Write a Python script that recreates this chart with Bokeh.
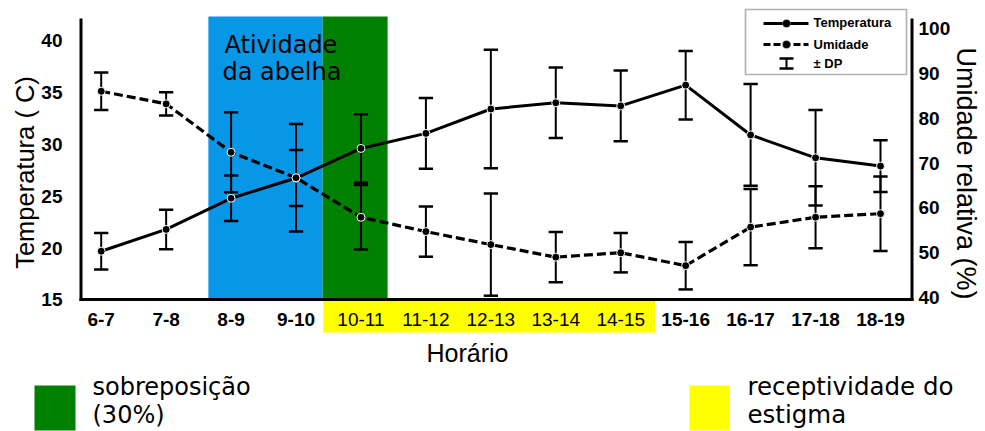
import numpy as np
from bokeh.plotting import figure
from bokeh.models import (Range1d, BoxAnnotation, Label, LabelSet,
                          ColumnDataSource, Arrow, TeeHead)
from bokeh.embed import file_html
from bokeh.resources import INLINE
from bokeh.core.properties import value

# ---------------- data ----------------
hours = ["6-7", "7-8", "8-9", "9-10", "10-11", "11-12", "12-13",
         "13-14", "14-15", "15-16", "16-17", "17-18", "18-19"]
temperature = [19.7, 21.8, 24.8, 26.75, 29.6, 31.05, 33.4, 34.0, 33.7, 35.7, 30.9, 28.7, 27.9]
temperature_sd = [1.75, 1.9, 2.2, 2.7, 3.3, 3.4, 5.7, 3.4, 3.4, 3.3, 4.9, 4.6, 2.5]
humidity = [86.0, 83.2, 72.4, 66.7, 57.9, 54.7, 51.8, 49.0, 50.0, 47.1, 55.7, 57.9, 58.7]
humidity_sd = [4.2, 2.6, 8.9, 12.0, 7.2, 5.6, 11.4, 5.6, 4.4, 5.3, 8.5, 6.9, 8.3]
temp_ticks = [15, 20, 25, 30, 35, 40]
hum_ticks = [40, 50, 60, 70, 80, 90, 100]

# shaded bands, in hour-category index units
bee_band = (1.65, 3.41)      # Atividade da abelha
overlap_band = (3.41, 4.41)  # sobreposição (30%)
stigma_band = (3.42, 8.53)   # receptividade do estigma

# ---------------- style ----------------
BLUE = "#0896e6"
GREEN = "#008000"
YELLOW = "#ffff00"
TICK_FONT = "Liberation Sans"
TEXT_FONT = "DejaVu Sans"

W, H = 985, 431


def sx(X):
    return X


def sy(Y):
    return H - Y


# the plotting frame covers the whole canvas; axes are drawn by hand
p = figure(width=W, height=H, output_backend="svg", toolbar_location=None,
           x_axis_location=None, y_axis_location=None,
           x_range=Range1d(-1.5507, 13.617), y_range=Range1d(2.331, 43.854),
           min_border_left=0, min_border_right=0, min_border_top=0, min_border_bottom=0)
p.outline_line_color = None
p.grid.visible = False
p.background_fill_color = "white"
p.border_fill_color = "white"
p.extra_y_ranges = {"hum": Range1d(10.109, 106.25)}


def sbox(L, R, T, B, **kw):
    return BoxAnnotation(left=sx(L), right=sx(R), top=sy(T), bottom=sy(B),
                         left_units="screen", right_units="screen",
                         top_units="screen", bottom_units="screen", **kw)


# shaded bands
for band, col in ((bee_band, BLUE), (overlap_band, GREEN)):
    p.add_layout(BoxAnnotation(left=band[0], right=band[1], bottom=sy(299), top=sy(16),
                               bottom_units="screen", top_units="screen",
                               fill_color=col, fill_alpha=1, line_color=None, level="underlay"))
p.add_layout(BoxAnnotation(left=stigma_band[0], right=stigma_band[1], bottom=sy(332), top=sy(300),
                           bottom_units="screen", top_units="screen",
                           fill_color=YELLOW, fill_alpha=1, line_color=None, level="underlay"))

# axis lines
for L, R, T, B in ((79, 82, 18, 300.5), (910, 913, 18, 300.5), (79, 913, 297.5, 300.5)):
    p.add_layout(sbox(L, R, T, B, fill_color="black", fill_alpha=1, line_color=None))

# y tick labels
lsrc = ColumnDataSource(dict(y=temp_ticks, text=[str(v) for v in temp_ticks]))
p.add_layout(LabelSet(x=sx(62), x_units="screen", y="y", text="text", source=lsrc,
                      text_align="right", text_baseline="middle",
                      text_font=value(TICK_FONT), text_font_style="bold",
                      text_font_size="19px", text_color="black"))
rsrc = ColumnDataSource(dict(y=hum_ticks, text=[str(v) for v in hum_ticks]))
p.add_layout(LabelSet(x=sx(918), x_units="screen", y="y", y_range_name="hum", text="text",
                      source=rsrc, text_align="left", text_baseline="middle",
                      text_font=value(TICK_FONT), text_font_style="bold",
                      text_font_size="19px", text_color="black"))

# x tick labels (bold outside stigma band, regular inside)
idx = list(range(len(hours)))
inside = [stigma_band[0] <= i <= stigma_band[1] for i in idx]
for flag, style in ((False, "bold"), (True, "normal")):
    src = ColumnDataSource(dict(x=[i for i in idx if inside[i] == flag],
                                text=[hours[i] for i in idx if inside[i] == flag]))
    p.add_layout(LabelSet(x="x", y=sy(319), y_units="screen", text="text", source=src,
                          text_align="center", text_baseline="middle",
                          text_font=value(TICK_FONT), text_font_style=style,
                          text_font_size="19px", text_color="black"))

# data sources
x = np.arange(len(hours))
t = np.array(temperature)
tsd = np.array(temperature_sd)
h = np.array(humidity)
hsd = np.array(humidity_sd)
cw = 0.11
tsrc = ColumnDataSource(dict(x=x, y=t, lo=t - tsd, hi=t + tsd, xl=x - cw, xr=x + cw))
hsrc = ColumnDataSource(dict(x=x, y=h, lo=h - hsd, hi=h + hsd, xl=x - cw, xr=x + cw))

# error bars
for src, rng in ((tsrc, "default"), (hsrc, "hum")):
    p.segment(x0="x", y0="lo", x1="x", y1="hi", source=src, line_color="black",
              line_width=2, y_range_name=rng)
    p.segment(x0="xl", y0="lo", x1="xr", y1="lo", source=src, line_color="black",
              line_width=2.5, y_range_name=rng)
    p.segment(x0="xl", y0="hi", x1="xr", y1="hi", source=src, line_color="black",
              line_width=2.5, y_range_name=rng)

# lines and points
p.line("x", "y", source=tsrc, line_color="black", line_width=3)
p.line("x", "y", source=hsrc, line_color="black", line_width=3.2, line_dash="9 4",
       y_range_name="hum")
p.scatter("x", "y", source=tsrc, size=8, fill_color="black", line_color="white", line_width=1)
p.scatter("x", "y", source=hsrc, size=8, fill_color="black", line_color="white", line_width=1,
          y_range_name="hum")

# axis titles
p.add_layout(Label(x=sx(24), y=sy(172), x_units="screen", y_units="screen",
                   text="Temperatura ( C)", angle=90, angle_units="deg",
                   text_align="center", text_baseline="middle",
                   text_font=TICK_FONT, text_font_size="25.5px", text_color="black"))
p.add_layout(Label(x=sx(965), y=sy(173), x_units="screen", y_units="screen",
                   text="Umidade relativa (%)", angle=-90, angle_units="deg",
                   text_align="center", text_baseline="middle",
                   text_font=TICK_FONT, text_font_size="27px", text_color="black"))
p.add_layout(Label(x=sx(467), y=sy(352), x_units="screen", y_units="screen",
                   text="Horário", text_align="center", text_baseline="middle",
                   text_font=TICK_FONT, text_font_size="25px", text_color="black"))

# band annotation text
for txt, X, Y in (("Atividade", 224, 44), ("da abelha", 222, 71)):
    p.add_layout(Label(x=sx(X), y=sy(Y), x_units="screen", y_units="screen", text=txt,
                       text_align="left", text_baseline="middle",
                       text_font=TEXT_FONT, text_font_size="24px", text_color="black"))

# ---------------- top-right legend ----------------
p.add_layout(sbox(745, 906, 9, 74, fill_color="white", fill_alpha=1,
                  line_color="black", line_width=1.7))
p.add_layout(Arrow(end=None, x_start=sx(763), y_start=sy(23), x_end=sx(808), y_end=sy(23),
                   start_units="screen", end_units="screen", line_color="black", line_width=3))
p.add_layout(Arrow(end=None, x_start=sx(763), y_start=sy(44), x_end=sx(808), y_end=sy(44),
                   start_units="screen", end_units="screen", line_color="black", line_width=3,
                   line_dash="7 3"))
for Y in (23, 44):
    p.add_layout(sbox(782, 790, Y - 4, Y + 4, fill_color="black", fill_alpha=1,
                      line_color="white", line_width=1, border_radius=4))
p.add_layout(Arrow(start=TeeHead(size=14, line_width=2.5, line_color="black"),
                   end=TeeHead(size=14, line_width=2.5, line_color="black"),
                   x_start=sx(786), y_start=sy(68), x_end=sx(786), y_end=sy(58),
                   start_units="screen", end_units="screen", line_color="black", line_width=2))
for txt, Y in (("Temperatura", 22), ("Umidade", 44), ("± DP", 63)):
    p.add_layout(Label(x=sx(813), y=sy(Y), x_units="screen", y_units="screen", text=txt,
                       text_align="left", text_baseline="middle",
                       text_font=TICK_FONT, text_font_style="bold", text_font_size="13px",
                       text_color="black"))

# ---------------- bottom colour key ----------------
for col, L, R in ((GREEN, 34, 75), (YELLOW, 689, 729)):
    p.add_layout(sbox(L, R, 385, 430, fill_color=col, fill_alpha=1, line_color=None))
for txt, X, Y, fs in (("sobreposição", 92, 386, "24px"), ("(30%)", 92, 414, "24px"),
                      ("receptividade do", 747, 386, "24.5px"), ("estigma", 747, 414, "24.5px")):
    p.add_layout(Label(x=sx(X), y=sy(Y), x_units="screen", y_units="screen", text=txt,
                       text_align="left", text_baseline="middle",
                       text_font=TEXT_FONT, text_font_size=fs, text_color="black"))

open("out.html", "w").write(file_html(p, INLINE))
